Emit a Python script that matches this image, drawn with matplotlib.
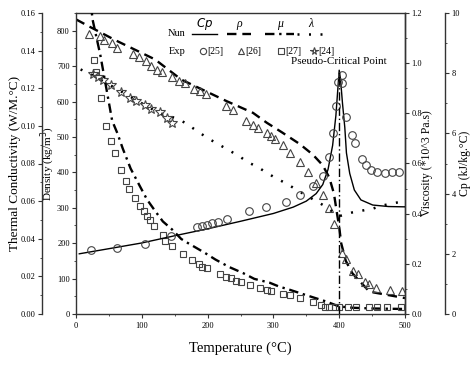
import matplotlib.pyplot as plt
from matplotlib.lines import Line2D
from matplotlib.ticker import MultipleLocator

plt.rcParams['font.family'] = ['Liberation Serif', 'DejaVu Serif']

# Nun: Cp (solid)
t_cp = [5, 50, 100, 150, 200, 250, 300, 330, 350, 365, 375, 383, 390, 395, 398, 400,
        402, 405, 408.5, 411, 416, 423, 433, 451, 475, 500]
cp_num = [2.00, 2.17, 2.36, 2.60, 2.83, 3.08, 3.34, 3.55, 3.75, 4.0, 4.3, 4.8, 5.6, 6.6, 7.5, 8.1,
          7.8, 7.0, 6.2, 5.35, 4.67, 4.12, 3.79, 3.62, 3.57, 3.56]
# Exp [25]: Cp (circles)
t_cp_exp = [23, 62, 105, 144, 184, 191, 199, 207, 216, 229, 263, 288, 319, 340, 360, 375,
            385, 391, 395, 398, 404, 405, 411, 419, 424, 434, 441, 449, 458, 469, 481, 491]
cp_exp = [2.13, 2.20, 2.34, 2.59, 2.88, 2.93, 2.97, 3.01, 3.07, 3.15, 3.43, 3.54, 3.73, 3.95, 4.25, 4.6,
          5.2, 6.0, 6.9, 7.7, 7.94, 7.66, 6.55, 5.95, 5.67, 5.14, 4.95, 4.78, 4.73, 4.67, 4.71, 4.73]

# Nun: density (dashed)
t_rho = [0, 20, 60, 120, 160, 229, 269, 290, 313, 340, 360, 375, 385, 392, 397, 400,
         403, 410, 420, 446, 470, 494, 500]
rho_num = [832, 812, 773, 719, 662, 601, 568, 540, 513, 480, 450, 420, 385, 340, 280, 246,
           200, 150, 115, 63, 55, 47, 45]
# Exp [26]: density (triangles)
t_rho_exp = [20, 36, 43, 54, 62, 86, 95, 106, 114, 123, 130, 146, 157, 166, 180, 188, 197, 228,
             239, 259, 269, 276, 290, 296, 302, 314, 325, 340, 352, 364, 375, 385, 392, 404,
             411, 421, 429, 439, 445, 456, 477, 495]
rho_exp = [792, 785, 773, 764, 752, 733, 726, 714, 700, 690, 683, 670, 657, 653, 636, 629, 620, 587,
           575, 544, 535, 525, 511, 504, 494, 478, 455, 430, 400, 370, 335, 300, 255, 173,
           155, 122, 113, 91, 85, 73, 68, 65]

# Nun: viscosity (dash-dot)
t_mu = [15, 25, 37, 55, 63, 71, 83, 97, 108, 121, 132, 146, 160, 170, 195, 212, 233, 254,
        271, 294, 309, 322, 350, 380, 400, 420, 450, 500]
mu_num = [1.45, 1.176, 1.032, 0.77, 0.72, 0.66, 0.58, 0.51, 0.456, 0.408, 0.369, 0.337, 0.299, 0.283,
          0.245, 0.217, 0.187, 0.163, 0.14, 0.125, 0.109, 0.099, 0.075, 0.05, 0.03, 0.025, 0.022, 0.02]
# Exp [27]: viscosity (squares)
t_mu_exp = [26.6, 30.7, 38.3, 45.9, 52.9, 60, 69.1, 76.3, 81.3, 89.4, 98, 103, 108.2, 113.2, 118.2,
            131.9, 136, 146.2, 162.6, 176, 186.6, 191.8, 198.8, 219.1, 228.3, 235.9, 243.5, 251.1,
            263.7, 280, 290, 296.7, 314.3, 324.5, 340, 359.5, 372, 378, 385, 393, 400, 413, 426,
            446, 458, 473, 494]
mu_exp = [1.013, 0.963, 0.863, 0.749, 0.689, 0.64, 0.576, 0.532, 0.5, 0.463, 0.429, 0.409, 0.392,
          0.376, 0.352, 0.313, 0.293, 0.272, 0.239, 0.216, 0.2, 0.189, 0.183, 0.16, 0.149, 0.143,
          0.133, 0.129, 0.116, 0.103, 0.096, 0.093, 0.08, 0.076, 0.065, 0.049, 0.035, 0.029, 0.029,
          0.029, 0.029, 0.028, 0.027, 0.029, 0.029, 0.029, 0.029]

# Nun: thermal conductivity (dotted)
t_lam = [7, 25, 50, 75, 100, 125, 157, 173, 188, 202, 217, 232, 248, 261, 276, 290, 305, 320,
         340, 360, 380, 395, 400, 420, 451, 466, 484, 500]
lam_num = [0.130, 0.127, 0.122, 0.117, 0.112, 0.107, 0.1035, 0.0999, 0.0963, 0.0931, 0.0901, 0.0871,
           0.0839, 0.0807, 0.0782, 0.075, 0.072, 0.0693, 0.065, 0.061, 0.057, 0.053, 0.052, 0.054,
           0.056, 0.0577, 0.059, 0.060]
# Exp [24]: thermal conductivity (stars)
t_lam_exp = [25.5, 33.7, 41.3, 53.8, 69, 81.7, 91.9, 104.3, 114.6, 127, 138.8, 146.4]
lam_exp = [0.1275, 0.1262, 0.1243, 0.1216, 0.118, 0.115, 0.1132, 0.1109, 0.1092, 0.1074, 0.104, 0.1017]

t_pc = 400       # pseudo-critical point
cp_pc = 8.1

W, H = 472, 366
fig = plt.figure(figsize=(W / 100, H / 100), dpi=100)
ax = fig.add_axes([76 / W, 1 - 314 / H, 329 / W, 301 / H])   # density
axT = ax.twinx()   # thermal conductivity (outer left)
axV = ax.twinx()   # viscosity (right)
axC = ax.twinx()   # Cp (outer right)

sc = '#333333'
mk = dict(mfc='none', mec='#444444', mew=0.8, ls='none')
ls_rho = (0, (4, 2.5))
ls_mu = (0, (4, 2, 1, 2))
ls_lam = (0, (0.8, 3.8))

ax.plot(t_rho, rho_num, color='k', lw=1.7, ls=ls_rho)
ax.plot(t_rho_exp, rho_exp, marker='^', ms=5.5, **mk)
axV.plot(t_mu, mu_num, color='k', lw=1.7, ls=ls_mu)
axV.plot(t_mu_exp, mu_exp, marker='s', ms=5, **mk)
axT.plot(t_lam, lam_num, color='k', lw=1.8, ls=ls_lam)
axT.plot(t_lam_exp, lam_exp, marker='*', ms=7, **mk)
axC.plot(t_cp, cp_num, color='k', lw=1.0)
axC.plot(t_cp_exp, cp_exp, marker='o', ms=5.5, **mk)
axC.plot([t_pc, t_pc], [0, cp_pc], color='k', lw=1.0, ls=(0, (6, 2, 1, 2)))
axC.text(t_pc, 8.4, 'Pseudo-Critical Point', ha='center', va='center', fontsize=8)

ax.set_xlim(0, 500)
ax.set_ylim(0, 850)
axT.set_ylim(0, 0.16)
axV.set_ylim(0, 1.2)
axC.set_ylim(0, 10)

# spine placement
axT.yaxis.set_ticks_position('left')
axT.yaxis.set_label_position('left')
axT.spines['left'].set_position(('outward', 24.5))
axC.spines['right'].set_position(('outward', 29))
for a in (axT, axV, axC):
    for s in ('top', 'bottom'):
        a.spines[s].set_visible(False)
axT.spines['right'].set_visible(False)
axV.spines['left'].set_visible(False)
axC.spines['left'].set_visible(False)
for a in (ax, axT, axV, axC):
    for s in a.spines.values():
        s.set_color(sc)
        s.set_linewidth(1.0)
    a.tick_params(which='both', direction='out', colors=sc, labelsize=6, labelcolor='k', pad=1.5)
    a.tick_params(which='major', length=3)
    a.tick_params(which='minor', length=1.5)
ax.tick_params(axis='x', top=False, pad=3)

ax.xaxis.set_major_locator(MultipleLocator(100))
ax.xaxis.set_minor_locator(MultipleLocator(50))
ax.yaxis.set_major_locator(MultipleLocator(100))
ax.yaxis.set_minor_locator(MultipleLocator(50))
axT.yaxis.set_major_locator(MultipleLocator(0.02))
axT.yaxis.set_minor_locator(MultipleLocator(0.01))
axT.yaxis.set_major_formatter('{x:.2f}')
axV.yaxis.set_major_locator(MultipleLocator(0.2))
axV.yaxis.set_minor_locator(MultipleLocator(0.1))
axV.yaxis.set_major_formatter('{x:.1f}')
axC.yaxis.set_major_locator(MultipleLocator(2))
axC.yaxis.set_minor_locator(MultipleLocator(1))

ax.set_xlabel('Temperature (°C)', fontsize=10.5, labelpad=8)
ax.set_ylabel('Density (kg/m$^3$)', fontsize=8)
axT.set_ylabel('Thermal Conductivity (W/M.°C)', fontsize=9.5)
axV.set_ylabel('Viscosity (*10^3 Pa.s)', fontsize=8.5)
axC.set_ylabel('Cp (kJ/kg.°C)', fontsize=8.5)
# label positions (left labels anchored at right edge, right labels at left edge)
ax.yaxis.set_label_coords((57 - 76) / 329, 0.5)
axT.yaxis.set_label_coords((21 - 76) / 329, 0.5)
axV.yaxis.set_label_coords((421 - 76) / 329, 0.5)
axC.yaxis.set_label_coords((459 - 76) / 329, 0.5)

# hand-made legend
def fx(px):
    return px / W

def fy(py):
    return 1 - py / H

tf = fig.transFigure
fig.text(fx(177), fy(34), 'Nun', ha='center', va='center', fontsize=7.5)
fig.text(fx(177), fy(51), 'Exp', ha='center', va='center', fontsize=7.5)
nun = [('$Cp$', dict(color='k', lw=1.0), 192, 217),
       ('ρ', dict(color='k', lw=1.7, ls=ls_rho), 227, 251),
       ('μ', dict(color='k', lw=1.7, ls=ls_mu), 265, 294),
       ('λ', dict(color='k', lw=1.8, ls=ls_lam), 297, 324)]
for lab, kw, x0, x1 in nun:
    fig.add_artist(Line2D([fx(x0), fx(x1)], [fy(34), fy(34)], transform=tf, **kw))
    fig.text(fx((x0 + x1) / 2), fy(24), lab, ha='center', va='center', fontsize=8.5,
             style='italic')
exp = [('o', '[25]', 203), ('^', '[26]', 241), ('s', '[27]', 281), ('*', '[24]', 314)]
for m, lab, x0 in exp:
    fig.add_artist(Line2D([fx(x0)], [fy(51)], transform=tf, marker=m,
                          ms=4.5 if m != '*' else 5.5, **mk))
    fig.text(fx(x0 + 4), fy(51), lab, ha='left', va='center', fontsize=7)

fig.savefig('out.png', dpi=100)
